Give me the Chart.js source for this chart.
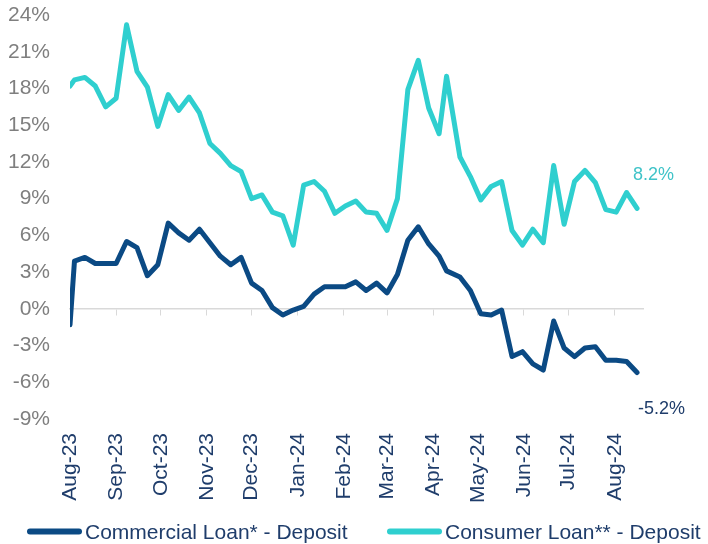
<!DOCTYPE html>
<html>
<head>
<meta charset="utf-8">
<script src="https://cdn.jsdelivr.net/npm/chart.js@4.4.1/dist/chart.umd.min.js"></script>
<style>
  html, body { margin: 0; padding: 0; background: #fff; }
  #wrap { width: 708px; height: 544px; position: relative; }
</style>
</head>
<body>
<div id="wrap"><canvas id="spreadChart"></canvas></div>
<script>
// Weekly observations (first one sits at the start of the axis)
const weekDates = [
  '2023-08-01',
  '2023-08-04', '2023-08-11', '2023-08-18', '2023-08-25',
  '2023-09-01', '2023-09-08', '2023-09-15', '2023-09-22', '2023-09-29',
  '2023-10-06', '2023-10-13', '2023-10-20', '2023-10-27',
  '2023-11-03', '2023-11-10', '2023-11-17', '2023-11-24',
  '2023-12-01', '2023-12-08', '2023-12-15', '2023-12-22', '2023-12-29',
  '2024-01-05', '2024-01-12', '2024-01-19', '2024-01-26',
  '2024-02-02', '2024-02-09', '2024-02-16', '2024-02-23',
  '2024-03-01', '2024-03-08', '2024-03-15', '2024-03-22', '2024-03-29',
  '2024-04-05', '2024-04-10', '2024-04-19', '2024-04-26',
  '2024-05-03', '2024-05-10', '2024-05-17', '2024-05-24', '2024-05-31',
  '2024-06-07', '2024-06-14', '2024-06-21', '2024-06-28',
  '2024-07-05', '2024-07-12', '2024-07-19', '2024-07-26',
  '2024-08-02', '2024-08-09', '2024-08-16'
];

const commercialSpread = [
  -1.3,
  3.9, 4.2, 3.7, 3.7,
  3.7, 5.5, 5.0, 2.7, 3.6,
  7.0, 6.2, 5.6, 6.5,
  5.4, 4.3, 3.6, 4.2,
  2.1, 1.5, 0.1, -0.5, -0.1,
  0.2, 1.2, 1.8, 1.8,
  1.8, 2.2, 1.5, 2.1,
  1.3, 2.8, 5.6, 6.7, 5.3,
  4.3, 3.1, 2.6, 1.5,
  -0.4, -0.5, -0.1, -3.9, -3.5,
  -4.5, -5.0, -1.0, -3.2,
  -3.9, -3.2, -3.1, -4.2,
  -4.2, -4.3, -5.2
];

const consumerSpread = [
  18.2,
  18.7, 18.9, 18.2, 16.5,
  17.2, 23.2, 19.4, 18.1, 14.9,
  17.5, 16.2, 17.3, 16.0,
  13.5, 12.7, 11.7, 11.2,
  9.0, 9.3, 7.9, 7.6, 5.2,
  10.1, 10.4, 9.6, 7.8,
  8.4, 8.8, 7.9, 7.8,
  6.4, 9.0, 17.9, 20.3, 16.4,
  14.3, 19.0, 12.4, 10.8,
  8.9, 10.0, 10.4, 6.4, 5.2,
  6.5, 5.4, 11.7, 6.9,
  10.4, 11.3, 10.3, 8.1,
  7.9, 9.5, 8.2
];

const monthTicks = [
  '2023-08-01', '2023-09-01', '2023-10-01', '2023-11-01', '2023-12-01',
  '2024-01-01', '2024-02-01', '2024-03-01', '2024-04-01', '2024-05-01',
  '2024-06-01', '2024-07-01', '2024-08-01'
];
const monthLabels = [
  'Aug-23', 'Sep-23', 'Oct-23', 'Nov-23', 'Dec-23', 'Jan-24', 'Feb-24',
  'Mar-24', 'Apr-24', 'May-24', 'Jun-24', 'Jul-24', 'Aug-24'
];
const yTicks = [-9, -6, -3, 0, 3, 6, 9, 12, 15, 18, 21, 24];

const seriesNames = ['Commercial Loan* - Deposit', 'Consumer Loan** - Deposit'];
const lineColors = ['#0b4a84', '#2fcfcf'];
const endLabelColors = ['#1f3d6b', '#3fc3c8'];

const FONT = "'Liberation Sans', Arial, sans-serif";
const NAVY_TEXT = '#1f3d6b';

const toMs = s => Date.parse(s + 'T00:00:00Z');
const xMin = toMs('2023-08-01');
const xMax = toMs('2024-08-20');

const pairs = vals => vals.map((v, i) => ({ x: toMs(weekDates[i]), y: v }));

function monthTickList(scale) {
    scale.ticks = monthTicks.map(d => ({ value: toMs(d) }));
}

function noEdgePadding(scale) {
    scale.paddingLeft = 0;
    scale.paddingRight = 0;
    scale.paddingTop = 0;
    scale.paddingBottom = 0;
}

// value labels at the end of each line
const endLabels = {
    id: 'endLabels',
    afterDatasetsDraw(chart) {
        const ctx = chart.ctx;
        const offsets = [{ dx: 1, dy: 42 }, { dx: -4, dy: -28 }];
        chart.data.datasets.forEach((ds, i) => {
            const meta = chart.getDatasetMeta(i);
            const pt = meta.data[meta.data.length - 1];
            const v = ds.data[ds.data.length - 1].y;
            ctx.save();
            ctx.font = '18px ' + FONT;
            ctx.fillStyle = endLabelColors[i];
            ctx.textAlign = 'left';
            ctx.textBaseline = 'alphabetic';
            ctx.fillText(v.toFixed(1) + '%', pt.x + offsets[i].dx, pt.y + offsets[i].dy);
            ctx.restore();
        });
    }
};

// legend row under the axis labels
const lineLegend = {
    id: 'lineLegend',
    afterDraw(chart) {
        const ctx = chart.ctx;
        const starts = [27, 387];
        chart.data.datasets.forEach((ds, i) => {
            const x = starts[i];
            ctx.save();
            ctx.strokeStyle = ds.borderColor;
            ctx.lineWidth = 6;
            ctx.lineCap = 'round';
            ctx.beginPath();
            ctx.moveTo(x + 3, 531.5);
            ctx.lineTo(x + 52, 531.5);
            ctx.stroke();
            ctx.font = '21px ' + FONT;
            ctx.fillStyle = NAVY_TEXT;
            ctx.textBaseline = 'alphabetic';
            ctx.fillText(ds.label, x + 58, 539);
            ctx.restore();
        });
    }
};

const ctx = document.getElementById('spreadChart').getContext('2d');
const spreadChart = new Chart(ctx, {
    type: 'line',
    data: {
        datasets: [
            {
                label: seriesNames[0],
                data: pairs(commercialSpread),
                borderColor: lineColors[0],
                backgroundColor: lineColors[0],
                borderWidth: 5,
                borderJoinStyle: 'round',
                borderCapStyle: 'round',
                pointRadius: 0,
                tension: 0
            },
            {
                label: seriesNames[1],
                data: pairs(consumerSpread),
                borderColor: lineColors[1],
                backgroundColor: lineColors[1],
                borderWidth: 5,
                borderJoinStyle: 'round',
                borderCapStyle: 'round',
                pointRadius: 0,
                tension: 0
            }
        ]
    },
    options: {
        responsive: true,
        maintainAspectRatio: false,
        animation: false,
        layout: { padding: { left: 8, right: 65, top: 15, bottom: 41 } },
        plugins: {
            legend: { display: false },
            tooltip: { enabled: false }
        },
        scales: {
            x: {
                type: 'linear',
                position: 'bottom',
                min: xMin,
                max: xMax,
                afterBuildTicks: monthTickList,
                afterFit: scale => { noEdgePadding(scale); scale.height = 84; },
                grid: { display: false, drawTicks: false },
                border: { display: false },
                ticks: {
                    autoSkip: false,
                    minRotation: 90,
                    maxRotation: 90,
                    padding: 14,
                    color: NAVY_TEXT,
                    font: { family: FONT, size: 21 },
                    callback: (v, i) => monthLabels[i]
                }
            },
            x2: {
                type: 'linear',
                axis: 'x',
                position: { y: 0 },
                min: xMin,
                max: xMax,
                afterBuildTicks: monthTickList,
                afterFit: noEdgePadding,
                grid: {
                    drawOnChartArea: false,
                    drawTicks: true,
                    tickLength: 6,
                    color: '#d9d9d9',
                    lineWidth: 1
                },
                border: { display: true, color: '#d9d9d9', width: 1.5 },
                ticks: { display: false }
            },
            y: {
                min: -9,
                max: 24,
                afterBuildTicks: scale => { scale.ticks = yTicks.map(v => ({ value: v })); },
                afterFit: scale => { noEdgePadding(scale); scale.width = 62; },
                grid: { display: false, drawTicks: false },
                border: { display: false },
                ticks: {
                    padding: 20,
                    color: '#7f7f7f',
                    font: { family: FONT, size: 21 },
                    callback: v => v + '%'
                }
            }
        }
    },
    plugins: [endLabels, lineLegend]
});
</script>
</body>
</html>
